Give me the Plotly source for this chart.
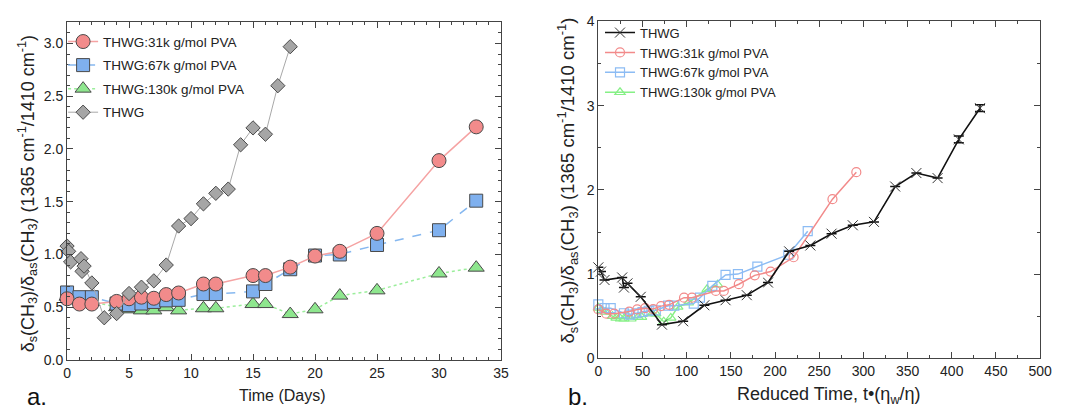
import plotly.graph_objects as go

# ---------------- data ----------------
# THWG (no PVA)
thwg_days = [0, 0.125, 0.29, 1.125, 1.21, 1.375, 2, 3, 4, 5, 6, 7, 8, 9, 10, 11, 12, 13, 14, 15, 16, 17, 18]
thwg_reduced = [0, 3, 7, 27, 29, 33, 48, 72, 96, 120, 144, 168, 192, 216, 240, 264, 288, 312, 336, 360, 384, 408, 432]
thwg_ratio = [1.08, 1.03, 0.93, 0.96, 0.84, 0.89, 0.73, 0.40, 0.44, 0.63, 0.69, 0.75, 0.90, 1.27, 1.34,
              1.48, 1.58, 1.62, 2.04, 2.20, 2.14, 2.60, 2.97]
thwg_err = [0, 0, 0, 0, 0, 0, 0, 0, 0, 0, 0, 0, 0, 0, 0, 0, 0, 0, 0, 0, 0, 0.04, 0.04]

pva_days = [0, 1, 2, 4, 5, 6, 7, 8, 9, 11, 12, 15, 16, 18, 20, 22, 25, 30, 33]

pva31_ratio = [0.58, 0.53, 0.53, 0.555, 0.58, 0.595, 0.585, 0.62, 0.635, 0.72, 0.72, 0.80, 0.80, 0.88,
               0.985, 1.03, 1.20, 1.89, 2.21]
pva31_reduced = [0, 9, 18, 35, 44, 53, 62, 71, 80, 97, 106, 133, 142, 159, 177, 195, 221, 265, 292]

pva67_ratio = [0.64, 0.595, 0.595, 0.535, 0.52, 0.535, 0.55, 0.565, 0.57, 0.625, 0.625, 0.65, 0.72, 0.86,
               0.99, 1.00, 1.09, 1.23, 1.51]
pva67_reduced = [0, 7, 14, 29, 36, 43, 50, 57, 65, 79, 86, 108, 115, 129, 144, 158, 180, 215, 237]

pva130_ratio = [0.60, 0.57, 0.55, 0.50, 0.48, 0.47, 0.47, 0.50, 0.47, 0.49, 0.49, 0.53, 0.53, 0.435,
                0.48, 0.61, 0.66, 0.82, 0.875]
pva130_reduced = [0, 4, 8, 16, 20, 25, 29, 33, 37, 45, 49, 61, 65, 74, 82, 90, 102, 123, 135]

name31 = "THWG:31k g/mol PVA"
name67 = "THWG:67k g/mol PVA"
name130 = "THWG:130k g/mol PVA"
name0 = "THWG"

FONT = "Liberation Sans, Arial, Helvetica, sans-serif"
OUT = "#4a4a4a"

fig = go.Figure()

# ---------------- panel a ----------------
fig.add_trace(go.Scatter(
    x=pva_days, y=pva130_ratio, name=name130, mode="lines+markers", legend="legend", legendrank=3,
    legendgroup="a130",
    line=dict(color="#9cee9c", width=1.5, dash="dot"), cliponaxis=False,
    marker=dict(symbol="triangle-up", size=14, color="#8ee68e", line=dict(color=OUT, width=1)),
    xaxis="x", yaxis="y"))
fig.add_trace(go.Scatter(
    x=pva_days, y=pva67_ratio, name=name67, mode="lines+markers", legend="legend", legendrank=2,
    legendgroup="a67",
    line=dict(color="#86b8f0", width=1.5, dash="dash"), cliponaxis=False,
    marker=dict(symbol="square", size=13, color="#7fb0ee", line=dict(color=OUT, width=1)),
    xaxis="x", yaxis="y"))
fig.add_trace(go.Scatter(
    x=pva_days, y=pva31_ratio, name=name31, mode="lines+markers", legend="legend", legendrank=1,
    legendgroup="a31",
    line=dict(color="#f5a3a3", width=1.5), cliponaxis=False,
    marker=dict(symbol="circle", size=14, color="#f28b8b", line=dict(color=OUT, width=1)),
    xaxis="x", yaxis="y"))
fig.add_trace(go.Scatter(
    x=thwg_days, y=thwg_ratio, name=name0, mode="lines+markers", legend="legend", legendrank=4,
    legendgroup="a0",
    line=dict(color="#a8a8a8", width=1), cliponaxis=False,
    marker=dict(symbol="diamond", size=11, color="#a6a6a6", line=dict(color=OUT, width=1)),
    error_y=dict(type="data", array=thwg_err, color="#333", thickness=1, width=2),
    xaxis="x", yaxis="y"))

# ---------------- panel b ----------------
fig.add_trace(go.Scatter(
    x=pva130_reduced, y=pva130_ratio, name=name130, mode="lines+markers", legend="legend2", legendrank=4,
    line=dict(color="#86f086", width=1.5), cliponaxis=False,
    marker=dict(symbol="triangle-up-open", size=9, color="#86f086", line=dict(width=1.2)),
    xaxis="x2", yaxis="y2"))
fig.add_trace(go.Scatter(
    x=pva67_reduced, y=pva67_ratio, name=name67, mode="lines+markers", legend="legend2", legendrank=3,
    line=dict(color="#8cbcf4", width=1.5), cliponaxis=False,
    marker=dict(symbol="square-open", size=9, color="#8cbcf4", line=dict(width=1.2)),
    xaxis="x2", yaxis="y2"))
fig.add_trace(go.Scatter(
    x=pva31_reduced, y=pva31_ratio, name=name31, mode="lines+markers", legend="legend2", legendrank=2,
    line=dict(color="#f28a8a", width=1.5), cliponaxis=False,
    marker=dict(symbol="circle-open", size=9, color="#f28a8a", line=dict(width=1.2)),
    xaxis="x2", yaxis="y2"))
fig.add_trace(go.Scatter(
    x=thwg_reduced, y=thwg_ratio, name=name0, mode="lines+markers", legend="legend2", legendrank=1,
    line=dict(color="#111111", width=1.6), cliponaxis=False,
    marker=dict(symbol="x-thin-open", size=10, color="#333333", line=dict(width=1)),
    error_y=dict(type="data", array=thwg_err, color="#111", thickness=1.5, width=5),
    xaxis="x2", yaxis="y2"))

W, H = 1077, 417
axis_common = dict(showline=True, linecolor="#444", linewidth=1, mirror="ticks", ticks="inside",
                   ticklen=6, tickcolor="#444", showgrid=False, zeroline=False,
                   tickfont=dict(family=FONT, size=14, color="#222"))

fig.update_layout(
    width=W, height=H, margin=dict(l=0, r=0, t=0, b=0),
    paper_bgcolor="white", plot_bgcolor="white",
    font=dict(family=FONT, color="#222"),
    xaxis=dict(domain=[64 / W, 504.5 / W], range=[0, 35], dtick=5, tick0=0,
               minor=dict(ticks="inside", ticklen=3, dtick=1, tickcolor="#444"),
               anchor="y", **axis_common),
    yaxis=dict(domain=[(H - 366) / H, (H - 15) / H], range=[0, 3.2], dtick=0.5, tick0=0,
               tickformat=".1f",
               minor=dict(ticks="inside", ticklen=3, dtick=0.1, tickcolor="#444"),
               anchor="x", **axis_common),
    xaxis2=dict(domain=[603.3 / W, 1051.7 / W], range=[0, 500], dtick=50, tick0=0,
                minor=dict(ticks="inside", ticklen=3, dtick=25, tickcolor="#444"),
                anchor="y2", **axis_common),
    yaxis2=dict(domain=[(H - 364.3) / H, (H - 14) / H], range=[0, 4], dtick=1, tick0=0,
                minor=dict(ticks="inside", ticklen=3, dtick=0.5, tickcolor="#444"),
                anchor="x2", **axis_common),
    legend=dict(x=60 / W, y=1 - 19 / H, xanchor="left", yanchor="top", bgcolor="rgba(0,0,0,0)",
                font=dict(family=FONT, size=13.5, color="#222"), tracegroupgap=3, itemsizing="trace"),
    legend2=dict(x=605 / W, y=1 - 10 / H, xanchor="left", yanchor="top", bgcolor="rgba(0,0,0,0)",
                 font=dict(family=FONT, size=13, color="#222"), tracegroupgap=0, itemsizing="trace"),
    showlegend=True,
)

ytitle = ("δ<sub>s</sub>(CH<sub>3</sub>)/δ<sub>as</sub>(CH<sub>3</sub>) "
          "(1365 cm<sup>-1</sup>/1410 cm<sup>-1</sup>)")
anns = [
    dict(x=24 / W, y=(H - 193) / H, text=ytitle, textangle=-90, showarrow=False,
         font=dict(family=FONT, size=18, color="#222"), xanchor="center", yanchor="middle"),
    dict(x=572 / W, y=(H - 180) / H, text=ytitle, textangle=-90, showarrow=False,
         font=dict(family=FONT, size=18.5, color="#222"), xanchor="center", yanchor="middle"),
    dict(x=283 / W, y=(H - 403) / H, text="Time (Days)", showarrow=False,
         font=dict(family=FONT, size=16, color="#222"), xanchor="center", yanchor="middle"),
    dict(x=837 / W, y=(H - 403) / H, text="Reduced Time, t•(η<sub>w</sub>/η)", showarrow=False,
         font=dict(family=FONT, size=18, color="#222"), xanchor="center", yanchor="middle"),
    dict(x=34 / W, y=(H - 404) / H, text="a.", showarrow=False,
         font=dict(family=FONT, size=24, color="#111"), xanchor="center", yanchor="middle"),
    dict(x=583 / W, y=(H - 404) / H, text="b.", showarrow=False,
         font=dict(family=FONT, size=24, color="#111"), xanchor="center", yanchor="middle"),
]
for a in anns:
    a.update(xref="paper", yref="paper")
fig.update_layout(annotations=anns)

fig.write_html("out.html")
